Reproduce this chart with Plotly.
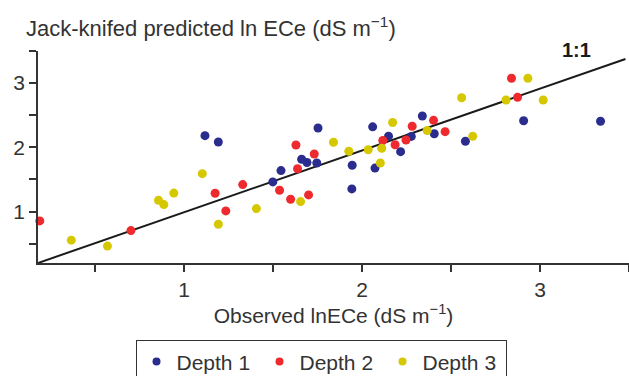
import plotly.graph_objects as go

# Depth 1 (observed, predicted)
d1_obs = [1.118, 1.193, 1.499, 1.545, 1.661, 1.691, 1.746, 1.753, 1.945, 1.943,
          2.060, 2.073, 2.149, 2.217, 2.277, 2.339, 2.406, 2.581, 2.908, 3.340]
d1_pred = [2.182, 2.084, 1.462, 1.638, 1.815, 1.765, 1.757, 2.302, 1.722, 1.353,
           2.320, 1.677, 2.174, 1.933, 2.170, 2.488, 2.212, 2.095, 2.415, 2.406]

# Depth 2
d2_obs = [0.190, 0.702, 1.175, 1.235, 1.330, 1.537, 1.599, 1.629, 1.638, 1.700,
          1.732, 2.117, 2.186, 2.247, 2.282, 2.402, 2.467, 2.840, 2.874]
d2_pred = [0.855, 0.705, 1.286, 1.011, 1.420, 1.333, 1.193, 2.037, 1.667, 1.260,
           1.897, 2.107, 2.040, 2.115, 2.328, 2.421, 2.244, 3.075, 2.779]

# Depth 3
d3_obs = [0.367, 0.570, 0.857, 0.887, 0.943, 1.103, 1.193, 1.407, 1.655, 1.840,
          1.926, 2.035, 2.103, 2.111, 2.172, 2.366, 2.560, 2.622, 2.809, 2.932, 3.018]
d3_pred = [0.555, 0.463, 1.177, 1.109, 1.288, 1.591, 0.804, 1.047, 1.156, 2.079,
           1.939, 1.963, 1.757, 1.986, 2.387, 2.263, 2.773, 2.173, 2.737, 3.075, 2.737]

# reference line as drawn
line_x = [0.18, 3.48]
line_y = [0.20, 3.375]

series_names = ["Depth 1", "Depth 2", "Depth 3"]
series_colors = ["#2b2d8e", "#ee2a2e", "#d6c800"]

major_ticks = [1, 2, 3]
major_text = ["1", "2", "3"]

FONT = "Liberation Sans, Arial, Helvetica, sans-serif"
INK = "#333333"
FS = 21

fig = go.Figure()

fig.add_trace(go.Scatter(x=line_x, y=line_y, mode="lines",
                         line=dict(color="#1a1a1a", width=2), showlegend=False,
                         hoverinfo="skip"))

for xs, ys, name, col in zip([d1_obs, d2_obs, d3_obs], [d1_pred, d2_pred, d3_pred],
                             series_names, series_colors):
    fig.add_trace(go.Scatter(x=xs, y=ys, mode="markers", name=name,
                             marker=dict(color=col, size=9, line=dict(width=0)),
                             showlegend=False, cliponaxis=False))
    fig.add_trace(go.Scatter(x=[None], y=[None], mode="markers", name=name,
                             marker=dict(color=col, size=8, line=dict(width=0)),
                             showlegend=True))

fig.update_layout(
    width=629, height=376,
    margin=dict(l=38, r=0, t=51, b=113, autoexpand=False),
    paper_bgcolor="white", plot_bgcolor="white",
    font=dict(family=FONT, size=FS, color=INK),
    showlegend=True,
    legend=dict(orientation="h", x=0.165, y=-0.365, xanchor="left", yanchor="top",
                bordercolor=INK, borderwidth=1, font=dict(size=FS, color=INK),
                entrywidth=78, entrywidthmode="pixels",
                itemsizing="trace", tracegroupgap=0),
)

axis_common = dict(showgrid=False, zeroline=False,
                   showline=True, linecolor=INK, linewidth=1.5,
                   ticks="outside", ticklen=7, tickwidth=1.5, tickcolor=INK,
                   tickvals=major_ticks, ticktext=major_text,
                   tickfont=dict(size=FS, color=INK),
                   minor=dict(dtick=0.5, tick0=0, ticks="outside", ticklen=7,
                              tickwidth=1.5, tickcolor=INK, showgrid=False))

fig.update_xaxes(range=[0.18, 3.5],
                 title=dict(text="Observed lnECe (dS m<sup>−1</sup>)",
                            font=dict(size=FS, color=INK), standoff=6),
                 **axis_common)
fig.update_yaxes(range=[0.2, 3.5], **axis_common)

fig.add_annotation(text="Jack-knifed predicted ln ECe (dS m<sup>−1</sup>)",
                   xref="paper", yref="paper", x=-0.024, y=1.115,
                   xanchor="left", yanchor="middle", showarrow=False,
                   font=dict(size=22, color=INK))
fig.add_annotation(text="<b>1:1</b>", xref="paper", yref="paper", x=0.912, y=1.005,
                   xanchor="center", yanchor="middle", showarrow=False,
                   font=dict(size=20, color="#1a1a1a"))

fig.write_html("out.html")
